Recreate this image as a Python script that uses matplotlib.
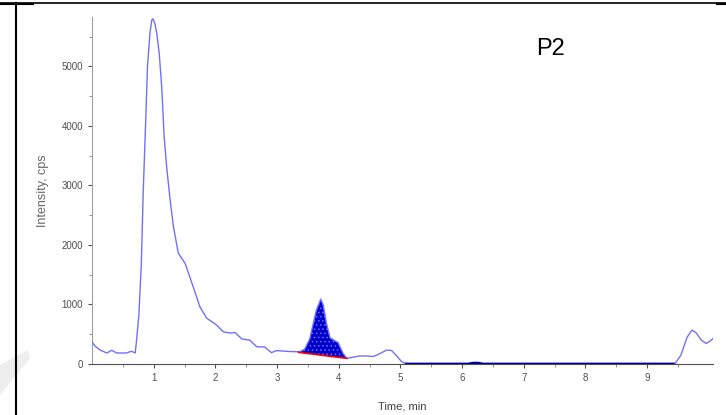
import matplotlib.pyplot as plt
from matplotlib.lines import Line2D
from matplotlib.patches import Polygon
import matplotlib as mpl
import numpy as np

# chromatogram trace (Time, min vs Intensity, cps)
time = [0.0, 0.05, 0.13, 0.24, 0.32, 0.40, 0.56, 0.64, 0.70, 0.72, 0.76, 0.80,
        0.83, 0.87, 0.90, 0.94, 0.97, 0.99, 1.02, 1.05, 1.09, 1.13, 1.17, 1.21,
        1.26, 1.32, 1.40, 1.51, 1.64, 1.75, 1.86, 2.02, 2.13, 2.24, 2.32, 2.43,
        2.56, 2.67, 2.80, 2.91, 2.99, 3.20, 3.37, 3.45, 3.53, 3.59, 3.64, 3.71,
        3.75, 3.80, 3.86, 3.94, 3.99, 4.07, 4.13, 4.24, 4.34, 4.45, 4.56, 4.64,
        4.78, 4.86, 4.94, 5.02, 5.10]
intensity = [370, 300, 235, 185, 230, 185, 185, 215, 185, 370, 820, 1690,
             2870, 4070, 5000, 5560, 5780, 5800, 5720, 5560, 5220, 4660, 3820, 3320,
             2820, 2310, 1860, 1690, 1300, 960, 770, 655, 540, 520, 530, 420,
             400, 290, 285, 190, 225, 210, 205, 250, 420, 690, 910, 1090,
             990, 690, 440, 390, 360, 180, 95, 115, 135, 135, 125, 160,
             235, 225, 135, 40, 0]

# flat (zero) region drawn in dark blue
flat_time = [5.10, 6.10, 6.18, 6.26, 6.34, 9.45]
flat_int = [0, 0, 15, 15, 0, 0]

# late eluting bump
tail_time = [9.45, 9.55, 9.65, 9.73, 9.80, 9.88, 9.96, 10.03, 10.07]
tail_int = [0, 150, 450, 570, 520, 400, 345, 390, 430]

# integrated peak and its baseline
peak_start, peak_end = 3.35, 4.13
base_time = [3.35, 4.13]
base_int = [195, 95]

fig = plt.figure(figsize=(7.26, 4.15), dpi=100)
ax = fig.add_axes([92 / 726, 51 / 415, 621 / 726, 347 / 415])

tick_font = ['Liberation Sans', 'DejaVu Sans']

# filled peak area between trace and baseline
t_arr = np.array(time)
i_arr = np.array(intensity, dtype=float)
mask = (t_arr >= peak_start) & (t_arr <= peak_end)
pt = np.concatenate([[peak_start], t_arr[mask], [peak_end]])
pi = np.interp(pt, t_arr, i_arr)
pb = np.interp(pt, base_time, base_int)
mpl.rcParams['hatch.color'] = '#7070ff'
mpl.rcParams['hatch.linewidth'] = 0.6
ax.fill_between(pt, pb, pi, facecolor='#0000cc', edgecolor='#7070ff',
                hatch='....', linewidth=0, zorder=2)

ax.plot(time, intensity, color='#7070ff', lw=1.0, zorder=3)
ax.plot(flat_time, flat_int, color='#000099', lw=2.0, zorder=3)
ax.plot(tail_time, tail_int, color='#7070ff', lw=1.0, zorder=3)
ax.plot(base_time, base_int, color='#ff0000', lw=1.2, zorder=4)

ax.set_xlim(0, 10.07)
ax.set_ylim(0, 5830)
ax.set_xticks(range(1, 10))
ax.set_xticks([0.5 + i for i in range(10)], minor=True)
ax.set_yticks(range(0, 6000, 1000))
ax.set_yticks(range(500, 6000, 1000), minor=True)

for s in ['top', 'right']:
    ax.spines[s].set_visible(False)
ax.spines['left'].set_color('#a0a0a0')
ax.spines['bottom'].set_color('#505050')
ax.tick_params(axis='both', which='major', length=3, width=0.8,
               color='#505050', labelsize=7, labelcolor='#505050')
ax.tick_params(axis='both', which='minor', length=2, width=0.6, color='#808080')
for lab in ax.get_xticklabels() + ax.get_yticklabels():
    lab.set_family(tick_font)

ax.set_ylabel('Intensity, cps', fontsize=9, color='#666666',
              family=tick_font, labelpad=9)
ax.set_xlabel('Time, min', fontsize=8, color='#404040', family=tick_font, labelpad=13)

fig.text(550 / 726, 1 - 49 / 415, 'P2', fontsize=17, family='Liberation Sans',
         ha='center', va='center')

# document table borders
fig.add_artist(Line2D([0, 1], [1 - 3.5 / 415] * 2, color='black', lw=1.2))
fig.add_artist(Line2D([0, 33 / 726], [1 - 4.5 / 415] * 2, color='black', lw=1.5))
fig.add_artist(Line2D([717 / 726, 1], [1 - 4.5 / 415] * 2, color='black', lw=1.5))
fig.add_artist(Line2D([16 / 726] * 2, [0, 1 - 3 / 415], color='black', lw=1.5))

# faint watermark
fig.add_artist(Polygon([[0, 1 - 395 / 415], [0, 1 - 365 / 415], [28 / 726, 1 - 350 / 415],
                        [30 / 726, 1 - 358 / 415]], closed=True,
                       transform=fig.transFigure, facecolor='#eeeeee', edgecolor='none',
                       zorder=0))

fig.savefig('out.png', dpi=100)
